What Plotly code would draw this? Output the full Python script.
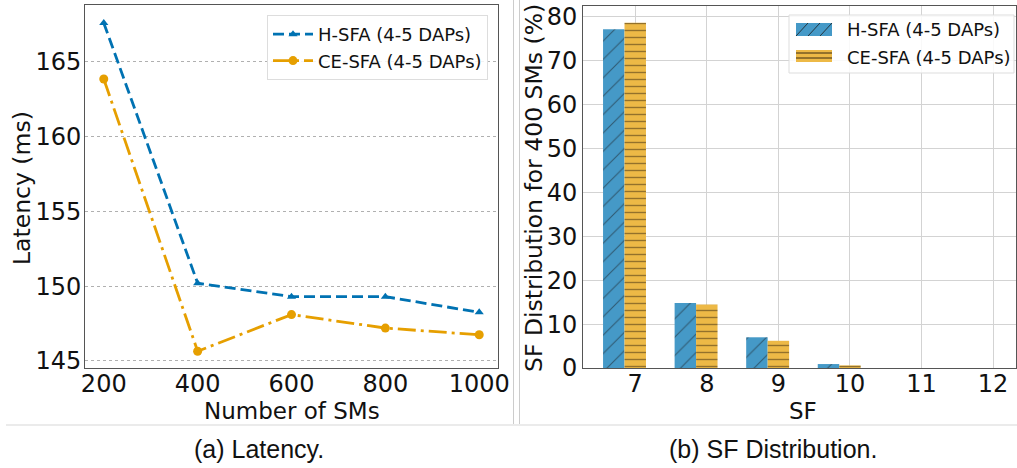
import plotly.graph_objects as go

W, H = 1017, 468

# Panel (a) data
num_sms = [200, 400, 600, 800, 1000]
latency_hsfa = [167.6, 150.2, 149.3, 149.3, 148.25]
latency_cesfa = [163.85, 145.65, 148.1, 147.2, 146.75]

# Panel (b) data
sf_values = [7, 8, 9, 10, 11, 12]
dist_hsfa = [77.2, 14.8, 7.0, 0.9, 0.0, 0.0]
dist_cesfa = [78.7, 14.5, 6.2, 0.6, 0.0, 0.0]

series_names = ["H-SFA (4-5 DAPs)", "CE-SFA (4-5 DAPs)"]

def px_x(p):
    return p / W

def px_y(p):
    return 1 - p / H

FONT = "DejaVu Sans"
BLUE_BAR = "#4599C7"
ORANGE_BAR = "#EDB946"

fig = go.Figure()

fig.add_trace(go.Scatter(
    x=num_sms, y=latency_hsfa, name=series_names[0], mode="lines+markers",
    line=dict(color="#0072B2", width=2.8, dash="11px,5px"),
    marker=dict(symbol="triangle-up", size=8, color="#0072B2"),
    xaxis="x", yaxis="y", legend="legend",
))
fig.add_trace(go.Scatter(
    x=num_sms, y=latency_cesfa, name=series_names[1], mode="lines+markers",
    line=dict(color="#E69F00", width=2.8, dash="18px,5px,3px,5px"),
    marker=dict(symbol="circle", size=9, color="#E69F00"),
    xaxis="x", yaxis="y", legend="legend",
))

fig.add_trace(go.Bar(
    x=sf_values, y=dist_hsfa, name=series_names[0], width=0.3, offset=-0.45,
    marker=dict(color=BLUE_BAR, line=dict(width=0),
                pattern=dict(shape="/", fgcolor="#1a1a1a", bgcolor=BLUE_BAR, size=13, solidity=0.08)),
    xaxis="x2", yaxis="y2", showlegend=False,
))
fig.add_trace(go.Bar(
    x=sf_values, y=dist_cesfa, name=series_names[1], width=0.3, offset=-0.15,
    marker=dict(color=ORANGE_BAR, line=dict(width=0),
                pattern=dict(shape="-", fgcolor="#3a2a10", bgcolor=ORANGE_BAR, size=7, solidity=0.2)),
    xaxis="x2", yaxis="y2", showlegend=False,
))

tickfont = dict(family=FONT, size=24, color="#111")
TITLE_SIZE = 23
LEGFONT = 18

def pline(x0, y0, x1, y1, color, width):
    return dict(type="line", xref="paper", yref="paper",
                x0=px_x(x0), y0=px_y(y0), x1=px_x(x1), y1=px_y(y1),
                line=dict(color=color, width=width))

def prect(x0, y0, x1, y1, fill, linecolor=None, lw=0):
    return dict(type="rect", xref="paper", yref="paper",
                x0=px_x(x0), y0=px_y(y0), x1=px_x(x1), y1=px_y(y1),
                fillcolor=fill, line=dict(color=linecolor or fill, width=lw), layer="above")

def ptext(text, x, y, size, family=FONT, angle=0, xanchor="center"):
    return dict(text=text, xref="paper", yref="paper", x=px_x(x), y=px_y(y),
                xanchor=xanchor, yanchor="middle", showarrow=False, textangle=angle,
                font=dict(family=family, size=size, color="#111"))

shapes = [
    pline(513.5, 424, 513.5, 0, "#cccccc", 1),
    pline(519.5, 424, 519.5, 0, "#cccccc", 1),
    pline(6, 425, 1017, 425, "#e4e4e4", 1.5),
]

# manual legend for bar panel
LX0, LY0, LX1, LY1 = 789, 15, 1014, 73
shapes.append(prect(LX0, LY0, LX1, LY1, "rgba(255,255,255,0.85)", "#dddddd", 1))
PX0, PX1 = 796, 832
shapes.append(prect(PX0, 23, PX1, 36, BLUE_BAR))
for xs in [796, 808, 820]:
    shapes.append(pline(xs, 36, xs + 12, 23, "#1a1a1a", 0.8))
shapes.append(prect(PX0, 50, PX1, 62, ORANGE_BAR))
for ys in [53, 58]:
    shapes.append(pline(PX0, ys, PX1, ys, "#3a2a10", 1))

annotations = [
    ptext("(a) Latency.", 259, 449, 25, family="Liberation Sans"),
    ptext("(b) SF Distribution.", 773, 449, 25, family="Liberation Sans"),
    ptext(series_names[0], 845, 30, LEGFONT, xanchor="left"),
    ptext(series_names[1], 845, 57, LEGFONT, xanchor="left"),
    ptext("Number of SMs", 292, 411, TITLE_SIZE),
    ptext("SF", 803, 411, TITLE_SIZE),
    ptext("Latency (ms)", 22, 188, 23.5, angle=-90),
    ptext("SF Distribution for 400 SMs (%)", 534, 188, 23.5, angle=-90),
]

fig.update_layout(
    width=W, height=H,
    margin=dict(l=0, r=0, t=0, b=0, autoexpand=False),
    paper_bgcolor="white", plot_bgcolor="white",
    font=dict(family=FONT),
    barmode="overlay",
    xaxis=dict(
        domain=[px_x(85), px_x(498)], range=[160, 1040],
        tickvals=num_sms, ticks="", tickfont=tickfont, automargin=False,
        ticklabelstandoff=-6,
        showgrid=False, zeroline=False,
        showline=True, linecolor="#555", linewidth=1, mirror=True,
        anchor="y",
    ),
    yaxis=dict(
        domain=[px_y(368), px_y(5)], range=[144.53, 168.8],
        tickvals=[145, 150, 155, 160, 165], ticks="", tickfont=tickfont, automargin=False,
        ticklabelstandoff=-2,
        showgrid=True, gridcolor="#b0b0b0", griddash="dot", gridwidth=1,
        zeroline=False,
        showline=True, linecolor="#555", linewidth=1, mirror=True,
        anchor="x",
    ),
    xaxis2=dict(
        domain=[px_x(583), px_x(1016)], range=[6.27, 12.32],
        tickvals=sf_values, ticks="", tickfont=tickfont, automargin=False,
        ticklabelstandoff=-6,
        showgrid=True, gridcolor="#d3d3d3", gridwidth=1, zeroline=False,
        showline=True, linecolor="#555", linewidth=1, mirror=True,
        anchor="y2",
    ),
    yaxis2=dict(
        domain=[px_y(368), px_y(6)], range=[0, 82.5],
        tickvals=[0, 10, 20, 30, 40, 50, 60, 70, 80], ticks="", tickfont=tickfont, automargin=False,
        showgrid=True, gridcolor="#d3d3d3", gridwidth=1, zeroline=False,
        showline=True, linecolor="#555", linewidth=1, mirror=True,
        anchor="x2",
    ),
    legend=dict(
        x=px_x(488), xanchor="right", y=px_y(15), yanchor="top",
        bgcolor="rgba(255,255,255,0.85)", bordercolor="#dddddd", borderwidth=1,
        font=dict(family=FONT, size=LEGFONT, color="#111"),
        itemwidth=40, tracegroupgap=0,
    ),
    shapes=shapes,
    annotations=annotations,
)

fig.write_html("out.html")
